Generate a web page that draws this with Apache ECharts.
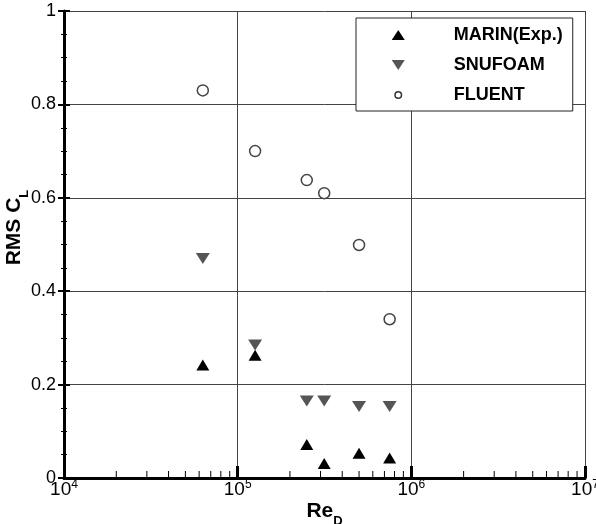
<!DOCTYPE html>
<html>
<head>
<meta charset="utf-8">
<script src="https://cdn.jsdelivr.net/npm/echarts@6/dist/echarts.min.js"></script>
<style>
  html, body { margin: 0; padding: 0; background: #fff; }
  #chart { width: 596px; height: 524px; }
</style>
</head>
<body>
<div id="chart"></div>
<script>
// Reynolds numbers of the cases (shared by all three data sets)
const reD = [6.3e4, 1.26e5, 2.5e5, 3.15e5, 5.0e5, 7.5e5];
// RMS lift coefficient for each source
const marinExp = [0.242, 0.263, 0.072, 0.031, 0.053, 0.043];
const snufoam = [0.47, 0.285, 0.165, 0.165, 0.153, 0.153];
const fluent = [0.83, 0.70, 0.638, 0.61, 0.499, 0.34];

const seriesNames = ['MARIN(Exp.)', 'SNUFOAM', 'FLUENT'];
const yTicks = [0, 0.2, 0.4, 0.6, 0.8, 1];
const xDecades = [1e4, 1e5, 1e6, 1e7];

// minor ticks of the log axis: 2..9 within each decade
const xMinorTicks = [];
for (let d = 0; d < xDecades.length - 1; d++) {
  for (let k = 2; k <= 9; k++) xMinorTicks.push(k * xDecades[d]);
}

const font = 'Arial, "Liberation Sans", Helvetica, sans-serif';
const downTri = 'path://M0,0 L14,0 L7,11 Z';
const upTri = 'path://M7,0 L14,11 L0,11 Z';
// small ring centred in a 14x12 box (the move-to corners keep the box size)
const smallRing = 'path://M0,0 M14,12 M7,2.5 A3.5,3.5 0 1 1 7,9.5 A3.5,3.5 0 1 1 7,2.5 Z';

const pairs = ys => reD.map((x, i) => [x, ys[i]]);

const chart = echarts.init(document.getElementById('chart'));
chart.setOption({
  animation: false,
  backgroundColor: '#fff',
  grid: { left: 64, right: 11, top: 11, bottom: 46, containLabel: false, outerBoundsMode: 'none' },
  legend: {
    orient: 'vertical',
    left: 356,
    top: 18,
    padding: [8, 10, 7, 35],
    itemGap: 12,
    itemWidth: 13,
    itemHeight: 12,
    backgroundColor: '#fff',
    borderColor: '#222',
    borderWidth: 1,
    selectedMode: false,
    textStyle: { fontFamily: font, fontSize: 18, fontWeight: 'bold', color: '#000', padding: [0, 0, 0, 44] },
    data: [
      { name: seriesNames[0], icon: upTri, itemStyle: { color: '#000' } },
      { name: seriesNames[1], icon: downTri, itemStyle: { color: '#555' } },
      { name: seriesNames[2], icon: smallRing, itemStyle: { color: '#fff', borderColor: '#333', borderWidth: 1.5 } }
    ]
  },
  xAxis: {
    type: 'log',
    logBase: 10,
    min: xDecades[0],
    max: xDecades[xDecades.length - 1],
    name: '{a|Re}{s|D}',
    nameLocation: 'middle',
    nameMoveOverlap: false,
    nameGap: 23,
    nameTextStyle: {
      rich: {
        a: { fontFamily: font, fontSize: 21, fontWeight: 'bold', color: '#000', verticalAlign: 'top', padding: [0, 0, 6, 0] },
        s: { fontFamily: font, fontSize: 13, fontWeight: 'bold', color: '#000', verticalAlign: 'bottom' }
      }
    },
    axisLine: { show: true, lineStyle: { color: '#000', width: 3 } },
    axisTick: { show: true, inside: true, length: 12, lineStyle: { color: '#000', width: 3 } },
    minorTick: { show: false },
    splitLine: { show: true, lineStyle: { color: '#444', width: 1 } },
    axisLabel: {
      margin: 1,
      formatter: v => '{b|10}{s|' + Math.round(Math.log10(v)) + '}',
      rich: {
        b: { fontFamily: font, fontSize: 19, color: '#000', verticalAlign: 'bottom', padding: [1, 0, 0, 0] },
        s: { fontFamily: font, fontSize: 12, color: '#000', verticalAlign: 'top' }
      }
    }
  },
  yAxis: [
    {
      type: 'value',
      min: yTicks[0],
      max: yTicks[yTicks.length - 1],
      interval: 0.2,
      name: '{a|RMS C}{s|L}',
      nameLocation: 'middle',
      nameMoveOverlap: false,
      nameRotate: 90,
      nameGap: 33,
      nameTextStyle: {
        padding: [0, 0, 0, 34],
        rich: {
          a: { fontFamily: font, fontSize: 21, fontWeight: 'bold', color: '#000', verticalAlign: 'top', padding: [0, 0, 6, 0] },
          s: { fontFamily: font, fontSize: 13, fontWeight: 'bold', color: '#000', verticalAlign: 'bottom' }
        }
      },
      axisLine: { show: true, lineStyle: { color: '#000', width: 3 } },
      axisTick: { show: true, inside: false, length: 6, lineStyle: { color: '#000', width: 2 } },
      minorTick: { show: true, splitNumber: 4, length: 3, lineStyle: { color: '#000', width: 1 } },
      splitLine: { show: true, lineStyle: { color: '#444', width: 1 } },
      axisLabel: {
        margin: 8,
        fontFamily: font,
        fontSize: 18,
        color: '#000',
        formatter: v => (v === 0 || v === 1) ? String(v) : v.toFixed(1)
      }
    },
    {
      // inward half of the crossing ticks on the left axis
      type: 'value',
      position: 'left',
      min: yTicks[0],
      max: yTicks[yTicks.length - 1],
      interval: 0.2,
      axisLine: { show: false },
      axisTick: { show: true, inside: true, length: 6, lineStyle: { color: '#000', width: 2 } },
      minorTick: { show: true, splitNumber: 4, length: 3, lineStyle: { color: '#000', width: 1 } },
      splitLine: { show: false },
      axisLabel: { show: false }
    }
  ],
  series: [
    {
      name: seriesNames[2],
      type: 'scatter',
      symbol: 'circle',
      symbolSize: 11,
      itemStyle: { color: '#fff', borderColor: '#444', borderWidth: 1.5, opacity: 1 },
      data: pairs(fluent),
      z: 3
    },
    {
      name: seriesNames[1],
      type: 'scatter',
      symbol: downTri,
      symbolSize: [14, 11],
      itemStyle: { color: '#555', opacity: 1 },
      data: pairs(snufoam),
      z: 4
    },
    {
      name: seriesNames[0],
      type: 'scatter',
      symbol: upTri,
      symbolSize: [13, 11],
      itemStyle: { color: '#000', opacity: 1 },
      data: pairs(marinExp),
      z: 5
    },
    {
      name: 'minorTicks',
      type: 'custom',
      silent: true,
      clip: false,
      z: 6,
      data: xMinorTicks.map(v => [v, 0]),
      renderItem: (params, api) => {
        const p = api.coord([api.value(0), 0]);
        return {
          type: 'line',
          shape: { x1: p[0], y1: p[1], x2: p[0], y2: p[1] - 7 },
          style: { stroke: '#000', lineWidth: 1 }
        };
      }
    }
  ]
});
</script>
</body>
</html>
